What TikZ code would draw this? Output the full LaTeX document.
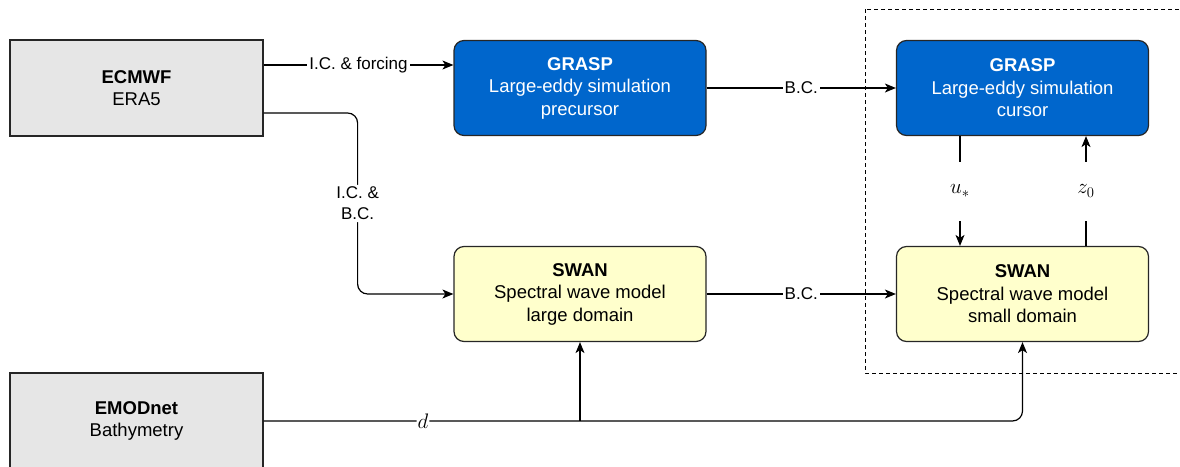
\RequirePackage{fix-cm}
\documentclass[tikz,border=0pt]{standalone}
\usepackage[no-math]{fontspec}
\setmainfont{Liberation Sans}
\usetikzlibrary{arrows.meta,calc}
\definecolor{graspblue}{RGB}{0,102,204}
\definecolor{swanyellow}{RGB}{255,255,204}
\definecolor{datagrey}{RGB}{230,230,230}
\tikzset{
  model/.style={draw=black!85, line width=1.2pt, rounded corners=10pt,
    minimum width=252pt, minimum height=95pt, align=center,
    font=\fontsize{18.5}{22.5}\selectfont},
  lesbox/.style={model, fill=graspblue, text=white},
  wavebox/.style={model, fill=swanyellow},
  databox/.style={model, rounded corners=0pt, fill=datagrey, minimum width=253pt, minimum height=96pt},
  lbl/.style={fill=white, inner sep=2pt, align=center, font=\fontsize{17}{21}\selectfont},
  mathlbl/.style={lbl, font=\fontsize{21}{23}\selectfont},
  arr/.style={-{Stealth[length=11pt,width=9pt,inset=3pt]}, line width=1.2pt},
}

\begin{document}
\begin{tikzpicture}[x=1pt,y=-1pt]
\useasboundingbox (0,0) rectangle (1180,466);

% coupled domain
\draw[dashed, dash pattern=on 4pt off 3pt, line width=1pt] (865,9) rectangle (1190,373);

% data sources
\node[databox] (ecmwf) at (136.5,88) {{\bfseries ECMWF}\\ERA5};
\node[databox] (emod) at (136.5,421) {{\bfseries EMODnet}\\Bathymetry};

% models
\node[lesbox] (graspA) at (580,88) {{\bfseries GRASP}\\Large-eddy simulation\\precursor};
\node[lesbox] (graspB) at (1022.5,88) {{\bfseries GRASP}\\Large-eddy simulation\\cursor};
\node[wavebox] (swanA) at (580,294) {{\bfseries SWAN}\\Spectral wave model\\large domain};
\node[wavebox] (swanB) at (1022.5,294) {{\bfseries SWAN}\\Spectral wave model\\small domain};

% forcing
\draw[arr] ([yshift=23pt]ecmwf.east) -- ([yshift=23pt]graspA.west) node[lbl,midway] {I.C. \& forcing};
\draw[arr, rounded corners=10pt] ([yshift=-25pt]ecmwf.east) -- ++(94,0) |- (swanA.west) node[lbl,pos=0.25] {I.C. \&\\B.C.};
\draw[arr] (graspA.east) -- (graspB.west) node[lbl,midway] {B.C.};
\draw[arr] (swanA.east) -- (swanB.west) node[lbl,midway] {B.C.};

% two-way coupling
\draw[arr] ([xshift=-62.5pt]graspB.south) -- ([xshift=-62.5pt]graspB.south |- swanB.north)
  node[mathlbl,midway,minimum height=59pt] {$u_*$};
\draw[arr] ([xshift=63.5pt]swanB.north) -- ([xshift=63.5pt]swanB.north |- graspB.south)
  node[mathlbl,midway,minimum height=59pt] {$z_0$};

% bathymetry
\coordinate (split) at (swanA.south |- emod.east);
\draw[arr, rounded corners=10pt] (emod.east) -| (swanB.south) node[mathlbl,pos=0.105,inner sep=1pt] {$d$};
\draw[arr] (split) -- (swanA.south);
\end{tikzpicture}
\end{document}
